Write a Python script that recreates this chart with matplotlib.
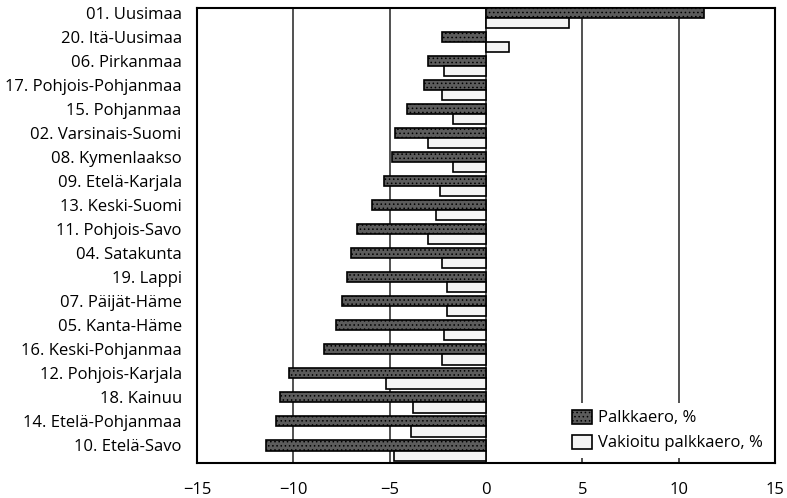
import matplotlib
matplotlib.use("Agg")
import matplotlib.pyplot as plt
import numpy as np

regions = ["01. Uusimaa", "20. Itä-Uusimaa", "06. Pirkanmaa", "17. Pohjois-Pohjanmaa",
           "15. Pohjanmaa", "02. Varsinais-Suomi", "08. Kymenlaakso", "09. Etelä-Karjala",
           "13. Keski-Suomi", "11. Pohjois-Savo", "04. Satakunta", "19. Lappi",
           "07. Päijät-Häme", "05. Kanta-Häme", "16. Keski-Pohjanmaa", "12. Pohjois-Karjala",
           "18. Kainuu", "14. Etelä-Pohjanmaa", "10. Etelä-Savo"]
palkkaero = [11.3, -2.3, -3.0, -3.2, -4.1, -4.7, -4.9, -5.3, -5.9, -6.7,
             -7.0, -7.2, -7.5, -7.8, -8.4, -10.2, -10.7, -10.9, -11.4]
vakioitu = [4.3, 1.2, -2.2, -2.3, -1.7, -3.0, -1.7, -2.4, -2.6, -3.0,
            -2.3, -2.0, -2.0, -2.2, -2.3, -5.2, -3.8, -3.9, -4.8]
xticks = [-15, -10, -5, 0, 5, 10, 15]

plt.rcParams['font.family'] = ['Open Sans', 'DejaVu Sans']
plt.rcParams['hatch.linewidth'] = 0.6

fig = plt.figure(figsize=(7.87, 4.98), dpi=100)
ax = fig.add_axes([197/787, 1 - 463/498, (775-197)/787, (463-8)/498])

y = np.arange(len(regions))
h = 0.42
ax.barh(y - 0.21, palkkaero, height=h, color='#5c5c5c', edgecolor='black',
        linewidth=1.2, hatch='....', label='Palkkaero, %', zorder=3)
ax.barh(y + 0.21, vakioitu, height=h, color='#f4f4f4', edgecolor='black',
        linewidth=1.2, label='Vakioitu palkkaero, %', zorder=3)

for xv in [-10, -5, 0, 5, 10]:
    ax.axvline(xv, color='#333333', linewidth=1.2, zorder=1)

ax.set_xlim(-15, 15)
ax.set_ylim(len(regions) - 0.5 + 0.02, -0.5 + 0.08)
ax.set_yticks(y - 0.21)
ax.set_yticklabels(regions, fontsize=12)
ax.set_xticks(xticks)
ax.set_xticklabels([str(v).replace('-', '\u2212') for v in xticks], fontsize=12)
ax.tick_params(axis='y', length=0, pad=11)
ax.tick_params(axis='x', length=0, pad=14)
for s in ax.spines.values():
    s.set_linewidth(1.5)
    s.set_color('black')

leg = ax.legend(loc='lower right', fontsize=12, frameon=True, fancybox=False,
                edgecolor='black', framealpha=1, handlelength=1.2, handleheight=0.9,
                handletextpad=0.4, borderaxespad=0.3, labelspacing=0.5)
leg.get_frame().set_linewidth(0)

fig.savefig("out.png", dpi=100)
